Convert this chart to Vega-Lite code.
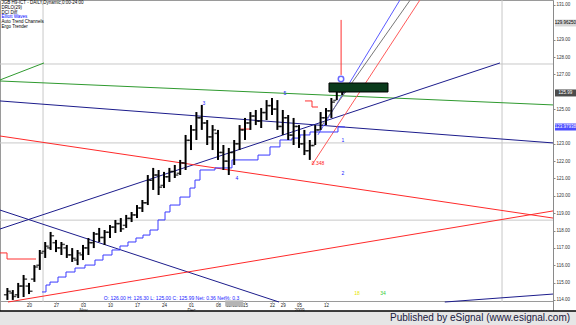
{
  "$schema": "https://vega.github.io/schema/vega-lite/v6.json",
  "width": 553,
  "height": 311,
  "autosize": {"type": "none"},
  "padding": {"left": 0, "top": 0, "right": 23, "bottom": 14},
  "background": "white",
  "config": {
    "view": {"stroke": "#9a9a9a", "fill": "white"},
    "font": "Liberation Sans",
    "axis": {"labelFont": "Liberation Sans", "grid": false}
  },
  "resolve": {"axis": {"x": "independent", "y": "independent"}, "scale": {"color": "independent"}},
  "datasets": {
    "bars": [
      {"t": -4, "o": 114.3, "h": 114.69, "l": 114.0, "c": 114.5},
      {"t": -3, "o": 114.4, "h": 114.57, "l": 114.0, "c": 114.2},
      {"t": -2, "o": 114.3, "h": 114.98, "l": 114.11, "c": 114.8},
      {"t": -1, "o": 114.8, "h": 115.44, "l": 114.17, "c": 115.2},
      {"t": 0, "o": 114.8, "h": 114.98, "l": 114.34, "c": 114.5},
      {"t": 1, "o": 115.2, "h": 116.01, "l": 115.04, "c": 115.9},
      {"t": 2, "o": 116.0, "h": 116.88, "l": 115.73, "c": 116.7},
      {"t": 3, "o": 116.8, "h": 117.34, "l": 116.42, "c": 117.1},
      {"t": 4, "o": 117.0, "h": 117.92, "l": 116.88, "c": 117.7},
      {"t": 5, "o": 117.3, "h": 117.46, "l": 116.76, "c": 117.0},
      {"t": 6, "o": 117.0, "h": 117.34, "l": 116.59, "c": 117.2},
      {"t": 7, "o": 117.0, "h": 117.17, "l": 116.42, "c": 116.6},
      {"t": 8, "o": 116.6, "h": 116.99, "l": 116.19, "c": 116.4},
      {"t": 9, "o": 116.3, "h": 116.88, "l": 116.01, "c": 116.7},
      {"t": 10, "o": 116.6, "h": 117.17, "l": 116.3, "c": 117.0},
      {"t": 11, "o": 117.0, "h": 117.57, "l": 116.59, "c": 117.3},
      {"t": 12, "o": 117.3, "h": 117.92, "l": 116.99, "c": 117.8},
      {"t": 13, "o": 117.8, "h": 118.15, "l": 117.34, "c": 117.6},
      {"t": 14, "o": 117.6, "h": 118.03, "l": 117.17, "c": 117.9},
      {"t": 15, "o": 117.9, "h": 118.32, "l": 117.57, "c": 118.2},
      {"t": 16, "o": 118.2, "h": 118.61, "l": 117.86, "c": 118.4},
      {"t": 17, "o": 118.4, "h": 118.72, "l": 117.92, "c": 118.1},
      {"t": 18, "o": 118.3, "h": 118.9, "l": 118.15, "c": 118.7},
      {"t": 19, "o": 118.7, "h": 119.07, "l": 118.49, "c": 118.9},
      {"t": 20, "o": 118.9, "h": 119.47, "l": 118.72, "c": 119.3},
      {"t": 21, "o": 119.3, "h": 119.76, "l": 119.07, "c": 119.6},
      {"t": 22, "o": 119.6, "h": 121.2, "l": 119.47, "c": 120.9},
      {"t": 23, "o": 120.9, "h": 121.61, "l": 120.34, "c": 121.2},
      {"t": 24, "o": 121.2, "h": 121.49, "l": 120.05, "c": 120.5},
      {"t": 25, "o": 120.6, "h": 121.38, "l": 120.45, "c": 121.1},
      {"t": 26, "o": 121.1, "h": 121.61, "l": 120.8, "c": 121.4},
      {"t": 27, "o": 121.4, "h": 121.78, "l": 121.03, "c": 121.2},
      {"t": 28, "o": 121.3, "h": 122.07, "l": 121.2, "c": 121.9},
      {"t": 29, "o": 121.9, "h": 123.51, "l": 121.49, "c": 123.2},
      {"t": 30, "o": 123.2, "h": 124.08, "l": 122.64, "c": 123.8},
      {"t": 31, "o": 123.8, "h": 124.83, "l": 123.22, "c": 124.5},
      {"t": 32, "o": 124.5, "h": 125.24, "l": 123.8, "c": 124.2},
      {"t": 33, "o": 124.2, "h": 124.37, "l": 122.93, "c": 123.4},
      {"t": 34, "o": 123.4, "h": 124.08, "l": 122.64, "c": 123.8},
      {"t": 35, "o": 123.6, "h": 123.8, "l": 122.07, "c": 122.5},
      {"t": 36, "o": 122.5, "h": 122.93, "l": 121.49, "c": 122.0},
      {"t": 37, "o": 122.0, "h": 122.76, "l": 121.2, "c": 122.5},
      {"t": 38, "o": 122.5, "h": 123.22, "l": 121.78, "c": 123.0},
      {"t": 39, "o": 123.0, "h": 124.08, "l": 122.64, "c": 123.8},
      {"t": 40, "o": 123.8, "h": 124.49, "l": 123.22, "c": 124.2},
      {"t": 41, "o": 124.2, "h": 124.83, "l": 123.8, "c": 124.6},
      {"t": 42, "o": 124.6, "h": 124.95, "l": 124.08, "c": 124.3},
      {"t": 43, "o": 124.3, "h": 125.06, "l": 123.91, "c": 124.8},
      {"t": 44, "o": 124.8, "h": 125.52, "l": 124.37, "c": 125.2},
      {"t": 45, "o": 125.2, "h": 125.64, "l": 124.66, "c": 125.0},
      {"t": 46, "o": 125.0, "h": 125.52, "l": 123.8, "c": 124.0},
      {"t": 47, "o": 124.0, "h": 124.95, "l": 123.51, "c": 124.5},
      {"t": 48, "o": 124.5, "h": 124.66, "l": 123.22, "c": 123.5},
      {"t": 49, "o": 123.5, "h": 124.49, "l": 122.93, "c": 124.0},
      {"t": 50, "o": 124.0, "h": 124.08, "l": 122.76, "c": 123.0},
      {"t": 51, "o": 123.0, "h": 123.8, "l": 122.35, "c": 122.6},
      {"t": 52, "o": 122.6, "h": 123.22, "l": 122.07, "c": 122.9},
      {"t": 53, "o": 122.9, "h": 124.08, "l": 122.93, "c": 123.8},
      {"t": 54, "o": 123.8, "h": 124.83, "l": 123.8, "c": 124.5},
      {"t": 55, "o": 124.5, "h": 125.06, "l": 124.08, "c": 124.9},
      {"t": 56, "o": 124.9, "h": 125.64, "l": 124.49, "c": 125.4},
      {"t": 57, "o": 125.5, "h": 126.22, "l": 125.52, "c": 126.0},
      {"t": 58, "o": 126.0, "h": 126.3, "l": 125.81, "c": 125.99}
    ],
    "lines": [
      {"id": "g1", "kind": "green", "t": -5.37, "v": 126.68},
      {"id": "g1", "kind": "green", "t": 2.78, "v": 127.66},
      {"id": "g2", "kind": "green", "t": -5.37, "v": 126.62},
      {"id": "g2", "kind": "green", "t": 97.04, "v": 125.24},
      {"id": "n1", "kind": "navy", "t": -5.37, "v": 125.47},
      {"id": "n1", "kind": "navy", "t": 97.04, "v": 123.05},
      {"id": "n2", "kind": "navy", "t": -5.37, "v": 118.09},
      {"id": "n2", "kind": "navy", "t": 87.22, "v": 127.66},
      {"id": "n3", "kind": "navy", "t": -5.37, "v": 119.18},
      {"id": "n3", "kind": "navy", "t": 46.3, "v": 113.88},
      {"id": "n4", "kind": "navy", "t": 77.0, "v": 113.88},
      {"id": "n4", "kind": "navy", "t": 97.04, "v": 114.34},
      {"id": "r1", "kind": "red", "t": -5.37, "v": 123.45},
      {"id": "r1", "kind": "red", "t": 97.04, "v": 118.72},
      {"id": "r2", "kind": "red", "t": -3.89, "v": 113.88},
      {"id": "r2", "kind": "red", "t": 97.04, "v": 119.13},
      {"id": "f1", "kind": "fanblue", "t": 53.5, "v": 123.51},
      {"id": "f1", "kind": "fanblue", "t": 68.7, "v": 131.29},
      {"id": "f2", "kind": "fangrey", "t": 54.3, "v": 124.08},
      {"id": "f2", "kind": "fangrey", "t": 70.6, "v": 131.29},
      {"id": "f3", "kind": "fanred", "t": 52.4, "v": 121.78},
      {"id": "f3", "kind": "fanred", "t": 72.4, "v": 131.29},
      {"id": "rv", "kind": "redv", "t": 57.8, "v": 130.14},
      {"id": "rv", "kind": "redv", "t": 57.8, "v": 126.97}
    ],
    "stairs": [
      {"id": "b", "kind": "blue", "t": 2.41, "v": 114.46},
      {"id": "b", "kind": "blue", "t": 3.15, "v": 114.86},
      {"id": "b", "kind": "blue", "t": 3.89, "v": 115.03},
      {"id": "b", "kind": "blue", "t": 5.37, "v": 115.32},
      {"id": "b", "kind": "blue", "t": 6.85, "v": 115.61},
      {"id": "b", "kind": "blue", "t": 8.52, "v": 115.84},
      {"id": "b", "kind": "blue", "t": 10.37, "v": 116.01},
      {"id": "b", "kind": "blue", "t": 12.22, "v": 116.3},
      {"id": "b", "kind": "blue", "t": 13.7, "v": 116.59},
      {"id": "b", "kind": "blue", "t": 15.37, "v": 116.88},
      {"id": "b", "kind": "blue", "t": 16.85, "v": 117.11},
      {"id": "b", "kind": "blue", "t": 18.33, "v": 117.34},
      {"id": "b", "kind": "blue", "t": 19.81, "v": 117.57},
      {"id": "b", "kind": "blue", "t": 21.11, "v": 117.74},
      {"id": "b", "kind": "blue", "t": 22.41, "v": 118.03},
      {"id": "b", "kind": "blue", "t": 23.89, "v": 118.61},
      {"id": "b", "kind": "blue", "t": 25.19, "v": 119.07},
      {"id": "b", "kind": "blue", "t": 26.11, "v": 119.47},
      {"id": "b", "kind": "blue", "t": 27.96, "v": 119.93},
      {"id": "b", "kind": "blue", "t": 29.81, "v": 120.45},
      {"id": "b", "kind": "blue", "t": 30.74, "v": 120.91},
      {"id": "b", "kind": "blue", "t": 31.67, "v": 121.49},
      {"id": "b", "kind": "blue", "t": 34.44, "v": 121.61},
      {"id": "b", "kind": "blue", "t": 37.59, "v": 122.07},
      {"id": "b", "kind": "blue", "t": 42.41, "v": 122.35},
      {"id": "b", "kind": "blue", "t": 44.63, "v": 122.82},
      {"id": "b", "kind": "blue", "t": 46.48, "v": 123.22},
      {"id": "b", "kind": "blue", "t": 48.7, "v": 123.33},
      {"id": "b", "kind": "blue", "t": 50.19, "v": 123.51},
      {"id": "b", "kind": "blue", "t": 52.04, "v": 123.68},
      {"id": "b", "kind": "blue", "t": 57.22, "v": 123.97},
      {"id": "b", "kind": "blue", "t": 58.52, "v": 123.97},
      {"id": "r1", "kind": "red", "t": -5.37, "v": 116.71},
      {"id": "r1", "kind": "red", "t": -4.07, "v": 116.36},
      {"id": "r1", "kind": "red", "t": 1.3, "v": 116.36},
      {"id": "r2", "kind": "red", "t": 39.07, "v": 123.85},
      {"id": "r2", "kind": "red", "t": 40.93, "v": 123.85},
      {"id": "r3", "kind": "red", "t": 51.11, "v": 125.47},
      {"id": "r3", "kind": "red", "t": 52.41, "v": 125.12},
      {"id": "r3", "kind": "red", "t": 53.52, "v": 125.12}
    ],
    "hgrid": [{"v": 127.6}, {"v": 123.05}, {"v": 118.6}],
    "vgrid": [{"t": 2.6}, {"t": 87.6}],
    "legend": [
      {"v": 131.115, "label": "JGB H9-ICT - DAILY,Dynamic,0:00-24:00", "kind": "black"},
      {"v": 130.838, "label": "DRLO(29)", "kind": "black"},
      {"v": 130.562, "label": "DCI Diff", "kind": "black"},
      {"v": 130.285, "label": "Elliott Waves", "kind": "blue"},
      {"v": 130.009, "label": "Auto Trend Channels", "kind": "black"},
      {"v": 129.732, "label": "Ergo Trender", "kind": "black"}
    ],
    "notes": [
      {"t": 53.52, "v": 121.89, "label": "0.348", "kind": "red"},
      {"t": 60.74, "v": 114.4, "label": "18", "kind": "yellow"},
      {"t": 65.56, "v": 114.4, "label": "34", "kind": "green"},
      {"t": 26.4, "v": 114.14, "label": "O: 126.00  H: 126.30  L: 125.00  C: 125.99  Net: 0.36  Net%: 0.3", "kind": "blue"},
      {"t": 32.41, "v": 125.35, "label": "3", "kind": "blue"},
      {"t": 38.52, "v": 121.03, "label": "4", "kind": "blue"},
      {"t": 47.4, "v": 125.93, "label": "5", "kind": "blue"},
      {"t": 58.15, "v": 123.22, "label": "1", "kind": "blue"},
      {"t": 58.15, "v": 121.32, "label": "2", "kind": "blue"}
    ],
    "tags": [
      {"t": 99.35, "v": 129.963, "label": "129.96250", "kind": "grey"},
      {"t": 99.35, "v": 125.93, "label": "125.99", "kind": "black"},
      {"t": 99.35, "v": 123.968, "label": "123.97938", "kind": "blue"}
    ],
    "box": [{"t": 61.02, "v": 126.245}],
    "circle": [{"t": 57.78, "v": 126.735}],
    "datehl": [{"t": 38, "v": 113.8}],
    "footer": [{"t": 47.96, "v": 112.96, "tx": 100.2}]
  },
  "layer": [
    {
      "data": {"name": "hgrid"},
      "mark": {"type": "rule", "color": "#c8c8c8", "strokeWidth": 1},
      "encoding": {
        "y": {"field": "v", "type": "quantitative", "scale": {"domain": [113.363, 131.288], "nice": false, "zero": false}, "axis": null}
      }
    },
    {
      "data": {"name": "vgrid"},
      "mark": {"type": "rule", "color": "#c8c8c8", "strokeWidth": 1},
      "encoding": {
        "x": {"field": "t", "type": "quantitative", "scale": {"domain": [-5.37, 97.04], "nice": false, "zero": false}, "axis": null},
        "y": {"datum": 113.88, "type": "quantitative", "scale": {"domain": [113.363, 131.288], "nice": false, "zero": false}, "axis": null},
        "y2": {"datum": 131.288}
      }
    },
    {
      "data": {"name": "datehl"},
      "mark": {"type": "tick", "orient": "horizontal", "size": 18, "thickness": 6, "color": "#b4b4b4", "opacity": 1},
      "encoding": {
        "x": {"field": "t", "type": "quantitative", "scale": {"domain": [-5.37, 97.04], "nice": false, "zero": false}, "axis": null},
        "y": {"field": "v", "type": "quantitative", "scale": {"domain": [113.363, 131.288], "nice": false, "zero": false}, "axis": null}
      }
    },
    {
      "data": {"name": "lines"},
      "mark": {"type": "line", "strokeWidth": 1, "clip": true},
      "encoding": {
        "x": {"field": "t", "type": "quantitative", "scale": {"domain": [-5.37, 97.04], "nice": false, "zero": false}, "axis": null},
        "y": {"field": "v", "type": "quantitative", "scale": {"domain": [113.363, 131.288], "nice": false, "zero": false}, "axis": null},
        "detail": {"field": "id"},
        "color": {"field": "kind", "type": "nominal", "legend": null,
          "scale": {"domain": ["green", "navy", "red", "fanblue", "fangrey", "fanred", "redv"],
                    "range": ["#2f9a2f", "#1c1c8c", "#ff2a2a", "#5a5aff", "#777777", "#ff5a5a", "#ff3030"]}}
      }
    },
    {
      "data": {"name": "stairs"},
      "mark": {"type": "line", "strokeWidth": 1, "interpolate": "step-after", "clip": true},
      "encoding": {
        "x": {"field": "t", "type": "quantitative", "scale": {"domain": [-5.37, 97.04], "nice": false, "zero": false}, "axis": null},
        "y": {"field": "v", "type": "quantitative", "scale": {"domain": [113.363, 131.288], "nice": false, "zero": false}, "axis": null},
        "detail": {"field": "id"},
        "color": {"field": "kind", "type": "nominal", "legend": null,
          "scale": {"domain": ["blue", "red"], "range": ["#3a3aff", "#ff3030"]}}
      }
    },
    {
      "data": {"name": "bars"},
      "mark": {"type": "rule", "color": "#000000", "strokeWidth": 2},
      "encoding": {
        "x": {"field": "t", "type": "quantitative", "scale": {"domain": [-5.37, 97.04], "nice": false, "zero": false},
          "axis": {"orient": "bottom", "offset": -10, "values": [0, 5, 10, 15, 20, 25, 30, 35, 38, 40, 45, 47, 50, 55],
            "labelExpr": "{'0':'20','5':'27','10':'03','15':'10','20':'17','25':'24','30':'01','35':'08','38':'12/11/08','40':'15','45':'22','47':'29','50':'05','55':'12'}['' + datum.value]",
            "labelFontSize": 4.5, "labelColor": "#222222", "labelPadding": 0, "tickSize": 1, "tickColor": "#888888",
            "domainColor": "#9a9a9a", "title": null, "labelFlush": false, "labelOverlap": false}},
        "y": {"field": "l", "type": "quantitative", "scale": {"domain": [113.363, 131.288], "nice": false, "zero": false},
          "axis": {"orient": "right", "values": [114, 115, 116, 117, 118, 119, 120, 121, 122, 123, 125, 127, 128, 129, 131],
            "format": ".2f", "labelFontSize": 4.5, "labelColor": "#333333", "labelPadding": 1, "tickSize": 2,
            "tickColor": "#888888", "domainColor": "#8a8a8a", "title": null, "labelOverlap": false}},
        "y2": {"field": "h"}
      }
    },
    {
      "data": {"name": "bars"},
      "mark": {"type": "tick", "orient": "horizontal", "size": 3, "thickness": 1.5, "xOffset": -2, "color": "#000000"},
      "encoding": {
        "x": {"field": "t", "type": "quantitative", "scale": {"domain": [-5.37, 97.04], "nice": false, "zero": false},
          "axis": {"orient": "bottom", "offset": -4, "values": [10, 30, 50], "domain": false, "ticks": false,
            "labelExpr": "datum.value == 10 ? 'Nov' : datum.value == 30 ? 'Dec' : '2009'",
            "labelFontSize": 4.5, "labelColor": "#222222", "labelPadding": 0, "title": null, "labelFlush": false}},
        "y": {"field": "o", "type": "quantitative", "scale": {"domain": [113.363, 131.288], "nice": false, "zero": false}, "axis": null}
      }
    },
    {
      "data": {"name": "bars"},
      "mark": {"type": "tick", "orient": "horizontal", "size": 3, "thickness": 1.5, "xOffset": 2, "color": "#000000"},
      "encoding": {
        "x": {"field": "t", "type": "quantitative", "scale": {"domain": [-5.37, 97.04], "nice": false, "zero": false}, "axis": null},
        "y": {"field": "c", "type": "quantitative", "scale": {"domain": [113.363, 131.288], "nice": false, "zero": false}, "axis": null}
      }
    },
    {
      "data": {"name": "box"},
      "mark": {"type": "tick", "orient": "horizontal", "size": 59, "thickness": 9, "color": "#0b3b1c", "stroke": "#000000", "strokeWidth": 1, "opacity": 1},
      "encoding": {
        "x": {"field": "t", "type": "quantitative", "scale": {"domain": [-5.37, 97.04], "nice": false, "zero": false}, "axis": null},
        "y": {"field": "v", "type": "quantitative", "scale": {"domain": [113.363, 131.288], "nice": false, "zero": false}, "axis": null}
      }
    },
    {
      "data": {"name": "circle"},
      "mark": {"type": "point", "shape": "circle", "size": 30, "filled": false, "color": "#2a2aff", "strokeWidth": 1.5},
      "encoding": {
        "x": {"field": "t", "type": "quantitative", "scale": {"domain": [-5.37, 97.04], "nice": false, "zero": false}, "axis": null},
        "y": {"field": "v", "type": "quantitative", "scale": {"domain": [113.363, 131.288], "nice": false, "zero": false}, "axis": null}
      }
    },
    {
      "data": {"name": "notes"},
      "mark": {"type": "text", "fontSize": 5, "align": "center", "baseline": "middle"},
      "encoding": {
        "x": {"field": "t", "type": "quantitative", "scale": {"domain": [-5.37, 97.04], "nice": false, "zero": false}, "axis": null},
        "y": {"field": "v", "type": "quantitative", "scale": {"domain": [113.363, 131.288], "nice": false, "zero": false}, "axis": null},
        "text": {"field": "label"},
        "color": {"field": "kind", "type": "nominal", "legend": null,
          "scale": {"domain": ["red", "yellow", "green", "blue"], "range": ["#ff2020", "#e6e600", "#33cc33", "#2020ff"]}}
      }
    },
    {
      "data": {"name": "legend"},
      "mark": {"type": "text", "fontSize": 4.5, "align": "left", "baseline": "middle", "clip": false},
      "encoding": {
        "x": {"datum": -5.1, "type": "quantitative", "scale": {"domain": [-5.37, 97.04], "nice": false, "zero": false}, "axis": null},
        "y": {"field": "v", "type": "quantitative", "scale": {"domain": [113.363, 131.288], "nice": false, "zero": false}, "axis": null},
        "text": {"field": "label"},
        "color": {"field": "kind", "type": "nominal", "legend": null,
          "scale": {"domain": ["black", "blue"], "range": ["#000000", "#0000ff"]}}
      }
    },
    {
      "data": {"name": "tags"},
      "mark": {"type": "tick", "orient": "horizontal", "size": 21, "thickness": 7, "clip": false},
      "encoding": {
        "x": {"field": "t", "type": "quantitative", "scale": {"domain": [-5.37, 97.04], "nice": false, "zero": false}, "axis": null},
        "y": {"field": "v", "type": "quantitative", "scale": {"domain": [113.363, 131.288], "nice": false, "zero": false}, "axis": null},
        "color": {"field": "kind", "type": "nominal", "legend": null,
          "scale": {"domain": ["grey", "black", "blue"], "range": ["#c4c4c4", "#000000", "#0000ff"]}}
      }
    },
    {
      "data": {"name": "tags"},
      "mark": {"type": "text", "fontSize": 4.5, "align": "center", "baseline": "middle", "clip": false},
      "encoding": {
        "x": {"field": "t", "type": "quantitative", "scale": {"domain": [-5.37, 97.04], "nice": false, "zero": false}, "axis": null},
        "y": {"field": "v", "type": "quantitative", "scale": {"domain": [113.363, 131.288], "nice": false, "zero": false}, "axis": null},
        "text": {"field": "label"},
        "color": {"field": "kind", "type": "nominal", "legend": null,
          "scale": {"domain": ["grey", "black", "blue"], "range": ["#000000", "#ffffff", "#ffffff"]}}
      }
    },
    {
      "data": {"name": "footer"},
      "mark": {"type": "tick", "orient": "horizontal", "size": 580, "thickness": 14, "color": "#e6e6e6", "clip": false, "opacity": 1},
      "encoding": {
        "x": {"field": "t", "type": "quantitative", "scale": {"domain": [-5.37, 97.04], "nice": false, "zero": false}, "axis": null},
        "y": {"field": "v", "type": "quantitative", "scale": {"domain": [113.363, 131.288], "nice": false, "zero": false}, "axis": null}
      }
    },
    {
      "data": {"name": "footer"},
      "mark": {"type": "rule", "color": "#000000", "strokeWidth": 1.5, "clip": false},
      "encoding": {
        "x": {"datum": -5.37, "type": "quantitative", "scale": {"domain": [-5.37, 97.04], "nice": false, "zero": false}, "axis": null},
        "x2": {"datum": 101.3},
        "y": {"datum": 113.363, "type": "quantitative", "scale": {"domain": [113.363, 131.288], "nice": false, "zero": false}, "axis": null}
      }
    },
    {
      "data": {"name": "footer"},
      "mark": {"type": "text", "fontSize": 10, "font": "Liberation Sans", "align": "right", "baseline": "middle", "color": "#1a1a40", "clip": false},
      "encoding": {
        "x": {"field": "tx", "type": "quantitative", "scale": {"domain": [-5.37, 97.04], "nice": false, "zero": false}, "axis": null},
        "y": {"field": "v", "type": "quantitative", "scale": {"domain": [113.363, 131.288], "nice": false, "zero": false}, "axis": null},
        "text": {"value": "Published by eSignal (www.esignal.com)"}
      }
    }
  ]
}
